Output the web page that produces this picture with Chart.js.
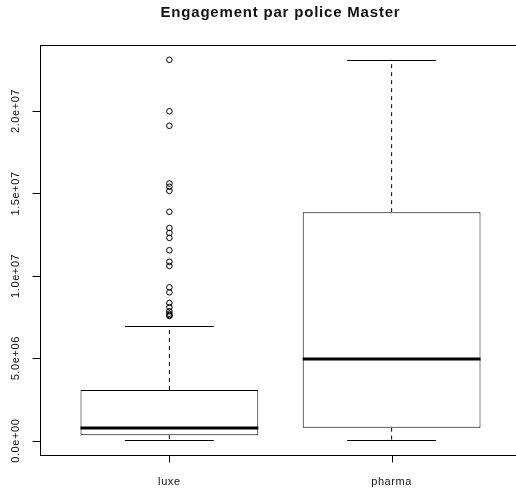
<!DOCTYPE html>
<html><head><meta charset="utf-8">
<style>html,body{margin:0;padding:0;overflow:hidden;background:#fff}</style>
<script src="https://cdn.jsdelivr.net/npm/chart.js@4"></script>
</head><body>
<div style="width:530px;height:490px"><canvas id="c" width="530" height="490"></canvas></div>
<script>
const TITLE = 'Engagement par police Master';
const categories = ['luxe', 'pharma'];
const whiskerLow = [25000, 25000];
const q1 = [330000, 790000];
const median = [750000, 4950000];
const q3 = [3070000, 13860000];
const whiskerHigh = [6950000, 23100000];
const luxeOutliers = [23100000, 19980000, 19100000, 15600000, 15400000, 15150000, 13880000,
  12900000, 12600000, 12300000, 11550000, 10850000, 10600000, 9300000, 9000000,
  8350000, 8100000, 7850000, 7700000, 7620000, 7560000];
const yTicks = [0, 5000000, 10000000, 15000000, 20000000];
const yTickLabels = ['0.0e+00', '5.0e+06', '1.0e+07', '1.5e+07', '2.0e+07'];

const FONT = '"Liberation Sans", Arial, sans-serif';

const boxPlugin = {
  id: 'boxDecor',
  beforeDraw(chart) { chart.ctx.letterSpacing = '0.8px'; },
  beforeDatasetsDraw(chart) { chart.ctx.letterSpacing = '0px'; },
  afterDatasetsDraw(chart) {
    const ctx = chart.ctx, xs = chart.scales.x, ys = chart.scales.y;
    ctx.save();
    ctx.strokeStyle = '#000';
    categories.forEach((c, i) => {
      const cx = xs.getPixelForValue(i + 1);
      const capL = xs.getPixelForValue(i + 1 - 0.2), capR = xs.getPixelForValue(i + 1 + 0.2);
      const bL = xs.getPixelForValue(i + 1 - 0.4), bR = xs.getPixelForValue(i + 1 + 0.4);
      // whiskers (dashed)
      ctx.lineWidth = 1;
      ctx.setLineDash([4, 4]);
      ctx.beginPath();
      ctx.moveTo(cx, ys.getPixelForValue(q3[i])); ctx.lineTo(cx, ys.getPixelForValue(whiskerHigh[i]));
      ctx.moveTo(cx, ys.getPixelForValue(q1[i])); ctx.lineTo(cx, ys.getPixelForValue(whiskerLow[i]));
      ctx.stroke();
      ctx.setLineDash([]);
      // caps
      ctx.beginPath();
      let yh = Math.round(ys.getPixelForValue(whiskerHigh[i])) + 0.5;
      let yl = Math.round(ys.getPixelForValue(whiskerLow[i])) + 0.5;
      ctx.moveTo(capL, yh); ctx.lineTo(capR, yh);
      ctx.moveTo(capL, yl); ctx.lineTo(capR, yl);
      ctx.stroke();
      // median
      ctx.lineWidth = 3;
      ctx.beginPath();
      const ym = Math.round(ys.getPixelForValue(median[i]));
      ctx.moveTo(bL, ym); ctx.lineTo(bR, ym);
      ctx.stroke();
    });
    ctx.restore();
  },
  afterDraw(chart) {
    const ctx = chart.ctx, xs = chart.scales.x, ys = chart.scales.y, a = chart.chartArea;
    ctx.save();
    ctx.strokeStyle = '#000';
    ctx.lineWidth = 1;
    ctx.strokeRect(a.left, a.top, a.right - a.left, a.bottom - a.top);
    ctx.beginPath();
    yTicks.forEach(v => {
      const y = Math.round(ys.getPixelForValue(v)) + 0.5;
      ctx.moveTo(a.left - 8, y); ctx.lineTo(a.left, y);
    });
    categories.forEach((c, i) => {
      const x = Math.round(xs.getPixelForValue(i + 1)) + 0.5;
      ctx.moveTo(x, a.bottom); ctx.lineTo(x, a.bottom + 7);
    });
    ctx.stroke();
    ctx.fillStyle = '#111';
    ctx.font = '11px ' + FONT;
    ctx.letterSpacing = '0.6px';
    ctx.textAlign = 'center';
    ctx.textBaseline = 'middle';
    yTicks.forEach((v, i) => {
      const y = ys.getPixelForValue(v);
      ctx.save();
      ctx.translate(16, y);
      ctx.rotate(-Math.PI / 2);
      ctx.fillText(yTickLabels[i], 0, 0);
      ctx.restore();
    });
    categories.forEach((c, i) => {
      ctx.fillText(c, xs.getPixelForValue(i + 1), a.bottom + 26);
    });
    ctx.restore();
  }
};

new Chart(document.getElementById('c'), {
  type: 'bar',
  data: {
    datasets: [
      {
        type: 'bar',
        data: categories.map((c, i) => ({ x: i + 1, y: [q1[i], q3[i]] })),
        backgroundColor: '#fff',
        borderColor: '#000',
        borderWidth: 1,
        borderSkipped: false,
        barPercentage: 0.8,
        categoryPercentage: 1
      },
      {
        type: 'scatter',
        data: luxeOutliers.map(v => ({ x: 1, y: v })),
        pointStyle: 'circle',
        pointRadius: 2.8,
        borderWidth: 1,
        borderColor: '#000',
        backgroundColor: 'rgba(0,0,0,0)'
      }
    ]
  },
  options: {
    responsive: false,
    animation: false,
    layout: { padding: { left: 40.5, right: 9.5, top: 0, bottom: 34.5 } },
    plugins: {
      legend: { display: false },
      tooltip: { enabled: false },
      title: {
        display: true,
        text: TITLE,
        color: '#111',
        font: { family: FONT, size: 15, weight: 'bold', lineHeight: 1.2 },
        padding: { top: 4, bottom: 23.5 }
      }
    },
    scales: {
      x: {
        type: 'linear', min: 0.42, max: 2.58, offset: false, display: false,
        afterBuildTicks: s => { s.ticks = categories.map((c, i) => ({ value: i + 1 })); }
      },
      y: {
        type: 'linear', min: -900000, max: 23970000, display: false,
        afterBuildTicks: s => { s.ticks = yTicks.map(v => ({ value: v })); }
      }
    }
  },
  plugins: [boxPlugin]
});
</script>
</body></html>
